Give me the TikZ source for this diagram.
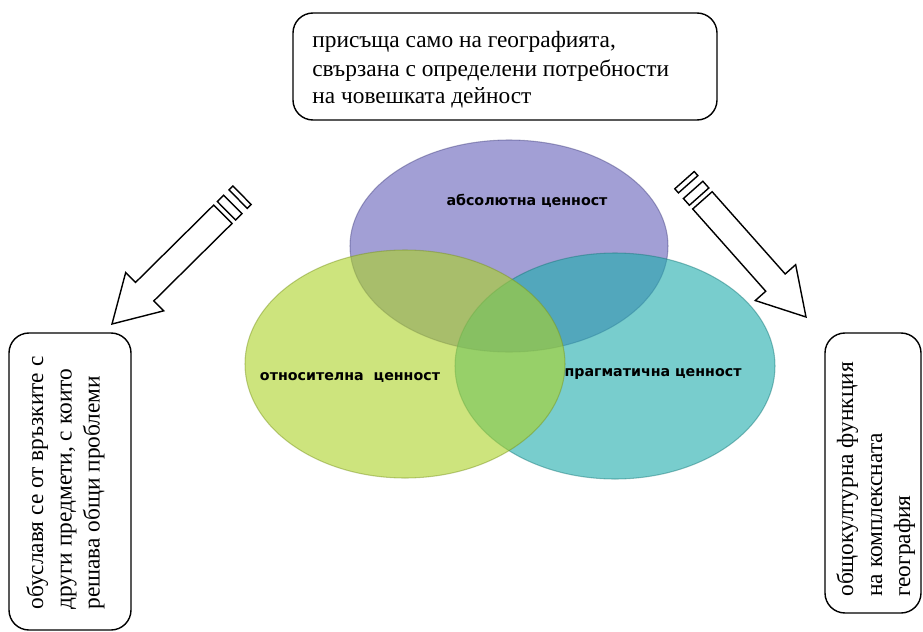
\documentclass[tikz,border=0pt]{standalone}
\usepackage{fontspec}
\setmainfont{Liberation Serif}
\newfontfamily\labelfont{DejaVu Sans}

\definecolor{absviolet}{RGB}{100,95,185}
\definecolor{relgreen}{RGB}{172,210,38}
\definecolor{pragteal}{RGB}{30,172,172}

\tikzset{
  venn/.style={fill opacity=0.6, draw opacity=0.45, line width=0.6pt},
  textbox/.style={draw, rounded corners=0.4cm, line width=0.8pt},
  boxline/.style={anchor=base west, inner sep=0pt, font=\fontsize{13.3}{15.6}\selectfont},
  valuelabel/.style={font=\labelfont\bfseries\fontsize{8.1}{9}\selectfont, inner sep=0pt},
  hollowarrow/.style={draw, fill=white, line width=0.8pt, line join=miter},
}

% striped block arrow: tip, direction of the tail
\newcommand{\stripedarrow}[2]{
  \begin{scope}[shift={#1}, rotate=#2]
    \draw[hollowarrow] (0,0) -- (46,27) -- (46,13) -- (156,13) -- (156,-13)
      -- (46,-13) -- (46,-27) -- cycle;
    \draw[hollowarrow] (161,-13) rectangle (170,13);
    \draw[hollowarrow] (177.5,-13) rectangle (183,13);
  \end{scope}
}

\begin{document}
\begin{tikzpicture}[x=0.02cm, y=-0.02cm]
  \useasboundingbox (0,0) rectangle (923,632);

  % the three values
  \draw[venn, fill=absviolet, draw=absviolet!70!black] (509,246) ellipse [x radius=159, y radius=106];
  \draw[venn, fill=pragteal, draw=pragteal!70!black] (615,366) ellipse [x radius=160, y radius=113];
  \draw[venn, fill=relgreen, draw=relgreen!70!black] (405,364) ellipse [x radius=160, y radius=114];

  \node[valuelabel] (abs) at (527,201) {абсолютна ценност};
  \node[valuelabel] (rel) at (350,377) {относителна\ \ ценност};
  \node[valuelabel] (prag) at (653,374) {прагматична ценност};

  % top box
  \draw[textbox] (293,13) rectangle (717,120);
  \node[boxline] (top1) at (312,48) {присъща само на географията,};
  \node[boxline] (top2) at (312,76) {свързана с определени потребности};
  \node[boxline] (top3) at (312,103) {на човешката дейност};

  % left box
  \draw[textbox] (9,333) rectangle (131,630);
  \node[boxline, rotate=90] (left1) at (43,610) {обуславя се от връзките с};
  \node[boxline, rotate=90] (left2) at (71.5,610) {други предмети, с които};
  \node[boxline, rotate=90] (left3) at (99.5,610) {решава общи проблеми};

  % right box
  \draw[textbox] (825,333) rectangle (921,613);
  \node[boxline, rotate=90] (right1) at (853,597) {общокултурна функция};
  \node[boxline, rotate=90] (right2) at (882,597) {на комплексната};
  \node[boxline, rotate=90] (right3) at (910,597) {география};

  % arrows
  \stripedarrow{(112,324)}{44.7}
  \stripedarrow{(806,317)}{131.6}
\end{tikzpicture}
\end{document}
